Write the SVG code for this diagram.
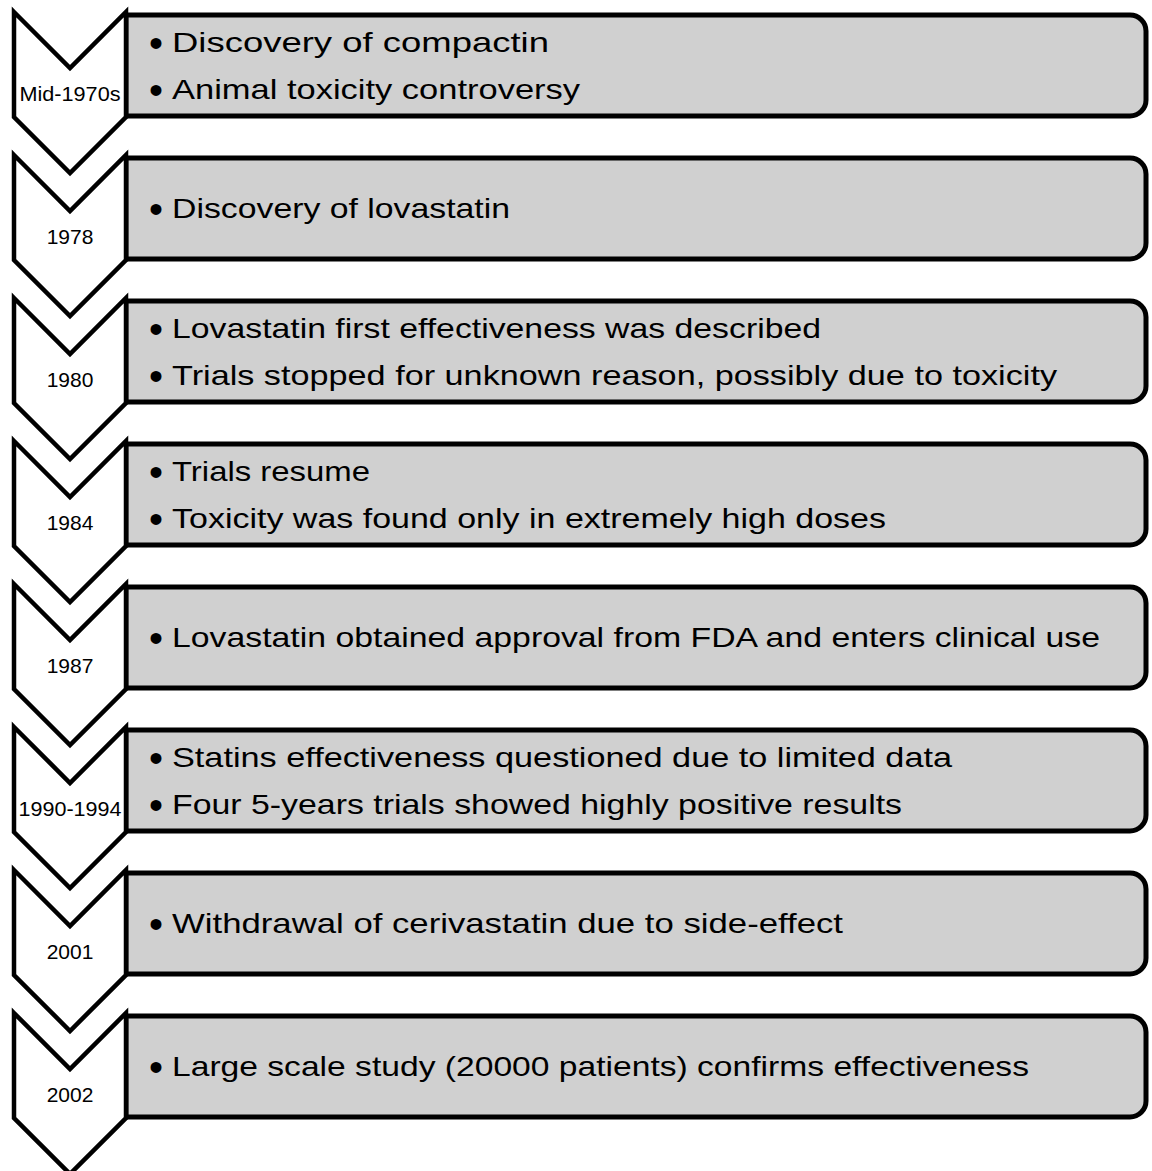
<svg xmlns="http://www.w3.org/2000/svg" width="1152" height="1171" viewBox="0 0 1152 1171">
<style>
.chev{fill:#ffffff;stroke:#000;stroke-width:4.5;stroke-linejoin:miter}
.box{fill:#d0d0d0;stroke:#000;stroke-width:5}
.yr{font-family:"Liberation Sans",Arial,sans-serif;font-size:21px;fill:#000;text-anchor:middle}
.t{font-family:"Liberation Sans",Arial,sans-serif;font-size:28px;fill:#000}
.b{font-family:"Liberation Sans",Arial,sans-serif;font-size:40px;fill:#000;text-anchor:middle}
</style>
<defs>
<path id="boxshape" d="M126,15 H1130 A16,16 0 0 1 1146,31 V100 A16,16 0 0 1 1130,116 H126 Z"/>
<path id="chevshape" d="M14,12 L70,68 L126,12 L126,117 L70,173 L14,117 Z"/>
</defs>
<g id="node1">
<use href="#boxshape" class="box"/>
<use href="#chevshape" class="chev"/>
<text class="yr" x="70" y="101" textLength="101" lengthAdjust="spacingAndGlyphs">Mid-1970s</text>
<text class="b" x="156" y="57">•</text><text class="t" x="172" y="52" textLength="377" lengthAdjust="spacingAndGlyphs">Discovery of compactin</text>
<text class="b" x="156" y="104">•</text><text class="t" x="172" y="99" textLength="408" lengthAdjust="spacingAndGlyphs">Animal toxicity controversy</text>
</g>
<g id="node2" transform="translate(0,143)">
<use href="#boxshape" class="box"/>
<use href="#chevshape" class="chev"/>
<text class="yr" x="70" y="101">1978</text>
<text class="b" x="156" y="80">•</text><text class="t" x="172" y="75" textLength="338" lengthAdjust="spacingAndGlyphs">Discovery of lovastatin</text>
</g>
<g id="node3" transform="translate(0,286)">
<use href="#boxshape" class="box"/>
<use href="#chevshape" class="chev"/>
<text class="yr" x="70" y="101">1980</text>
<text class="b" x="156" y="57">•</text><text class="t" x="172" y="52" textLength="649" lengthAdjust="spacingAndGlyphs">Lovastatin first effectiveness was described</text>
<text class="b" x="156" y="104">•</text><text class="t" x="172" y="99" textLength="885" lengthAdjust="spacingAndGlyphs">Trials stopped for unknown reason, possibly due to toxicity</text>
</g>
<g id="node4" transform="translate(0,429)">
<use href="#boxshape" class="box"/>
<use href="#chevshape" class="chev"/>
<text class="yr" x="70" y="101">1984</text>
<text class="b" x="156" y="57">•</text><text class="t" x="172" y="52" textLength="198" lengthAdjust="spacingAndGlyphs">Trials resume</text>
<text class="b" x="156" y="104">•</text><text class="t" x="172" y="99" textLength="714" lengthAdjust="spacingAndGlyphs">Toxicity was found only in extremely high doses</text>
</g>
<g id="node5" transform="translate(0,572)">
<use href="#boxshape" class="box"/>
<use href="#chevshape" class="chev"/>
<text class="yr" x="70" y="101">1987</text>
<text class="b" x="156" y="80">•</text><text class="t" x="172" y="75" textLength="928" lengthAdjust="spacingAndGlyphs">Lovastatin obtained approval from FDA and enters clinical use</text>
</g>
<g id="node6" transform="translate(0,715)">
<use href="#boxshape" class="box"/>
<use href="#chevshape" class="chev"/>
<text class="yr" x="70" y="101" textLength="103" lengthAdjust="spacingAndGlyphs">1990-1994</text>
<text class="b" x="156" y="57">•</text><text class="t" x="172" y="52" textLength="780" lengthAdjust="spacingAndGlyphs">Statins effectiveness questioned due to limited data</text>
<text class="b" x="156" y="104">•</text><text class="t" x="172" y="99" textLength="730" lengthAdjust="spacingAndGlyphs">Four 5-years trials showed highly positive results</text>
</g>
<g id="node7" transform="translate(0,858)">
<use href="#boxshape" class="box"/>
<use href="#chevshape" class="chev"/>
<text class="yr" x="70" y="101">2001</text>
<text class="b" x="156" y="80">•</text><text class="t" x="172" y="75" textLength="671" lengthAdjust="spacingAndGlyphs">Withdrawal of cerivastatin due to side-effect</text>
</g>
<g id="node8" transform="translate(0,1001)">
<use href="#boxshape" class="box"/>
<use href="#chevshape" class="chev"/>
<text class="yr" x="70" y="101">2002</text>
<text class="b" x="156" y="80">•</text><text class="t" x="172" y="75" textLength="857" lengthAdjust="spacingAndGlyphs">Large scale study (20000 patients) confirms effectiveness</text>
</g>
<g id="connectors"></g>
</svg>
